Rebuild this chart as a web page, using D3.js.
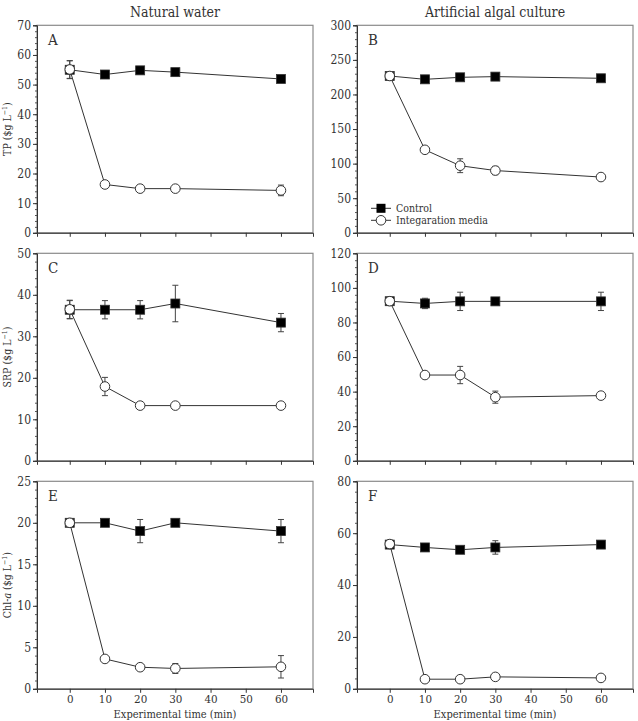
<!DOCTYPE html>
<html><head><meta charset="utf-8">
<script src="https://cdn.jsdelivr.net/npm/d3@7"></script>
<style>
body{margin:0;background:#fff;}
text{font-family:"DejaVu Serif Condensed","DejaVu Serif",serif;fill:#333;}
</style></head>
<body><svg id="c" width="638" height="721"></svg>
<script>
const times = [0, 10, 20, 30, 60];
const xTicks = [0, 10, 20, 30, 40, 50, 60];
const columnTitles = ["Natural water", "Artificial algal culture"];
const seriesNames = ["Control", "Integaration media"];

const tpNatControl = [55, 53.4, 54.8, 54.2, 51.9];
const tpNatControlErr = [3, 0.5, 0.5, 1.2, 0.5];
const tpNatInteg = [55.1, 16.3, 14.9, 14.9, 14.3];
const tpNatIntegErr = [3, 0.5, 0.5, 0.5, 1.8];

const tpArtControl = [226.7, 221.9, 224.8, 225.8, 223.4];
const tpArtControlErr = [3, 3, 3, 3, 3];
const tpArtInteg = [226.7, 120, 97, 90, 80.6];
const tpArtIntegErr = [4, 3, 10, 6, 3];

const srpNatControl = [36.4, 36.4, 36.4, 37.9, 33.3];
const srpNatControlErr = [2.2, 2.2, 2.2, 4.4, 2.2];
const srpNatInteg = [36.5, 17.9, 13.3, 13.3, 13.3];
const srpNatIntegErr = [2.2, 2.2, 0.3, 0.3, 0.3];

const srpArtControl = [92.3, 91, 92.2, 92.2, 92.2];
const srpArtControlErr = [1, 3, 5.3, 1, 5.3];
const srpArtInteg = [92.3, 49.6, 49.6, 36.8, 37.7];
const srpArtIntegErr = [1.5, 1, 5, 3.5, 1];

const chlNatControl = [20, 20, 19, 20, 19];
const chlNatControlErr = [0.2, 0.2, 1.4, 0.2, 1.4];
const chlNatInteg = [20, 3.6, 2.6, 2.45, 2.65];
const chlNatIntegErr = [0.3, 0.2, 0.2, 0.6, 1.35];

const chlArtControl = [55.6, 54.5, 53.6, 54.5, 55.6];
const chlArtControlErr = [1, 1, 1, 2.6, 1];
const chlArtInteg = [55.8, 3.7, 3.7, 4.6, 4.2];
const chlArtIntegErr = [1.5, 0.5, 0.5, 0.5, 0.5];

const panels = [
  {id:"A", col:0, row:0, yMax:70, yStep:10, label:"TP", ctrl:tpNatControl, ctrlErr:tpNatControlErr, integ:tpNatInteg, integErr:tpNatIntegErr},
  {id:"B", col:1, row:0, yMax:300, yStep:50, ctrl:tpArtControl, ctrlErr:tpArtControlErr, integ:tpArtInteg, integErr:tpArtIntegErr, legend:true},
  {id:"C", col:0, row:1, yMax:50, yStep:10, label:"SRP", ctrl:srpNatControl, ctrlErr:srpNatControlErr, integ:srpNatInteg, integErr:srpNatIntegErr},
  {id:"D", col:1, row:1, yMax:120, yStep:20, ctrl:srpArtControl, ctrlErr:srpArtControlErr, integ:srpArtInteg, integErr:srpArtIntegErr},
  {id:"E", col:0, row:2, yMax:25, yStep:5, label:"Chl-a", ctrl:chlNatControl, ctrlErr:chlNatControlErr, integ:chlNatInteg, integErr:chlNatIntegErr},
  {id:"F", col:1, row:2, yMax:80, yStep:20, ctrl:chlArtControl, ctrlErr:chlArtControlErr, integ:chlArtInteg, integErr:chlArtIntegErr}
];

const svg = d3.select("#c");
const colX = [37, 357], pw = 276;
const rowY = [25.3, 253.3, 481.3], ph = 207.5;
const lineCol = "#333", frameCol = "#8a8a8a";
const FONT = '"DejaVu Serif Condensed","DejaVu Serif",serif';

columnTitles.forEach((t,i)=>{
  svg.append("text").attr("x", colX[i]+pw/2).attr("y", 17).attr("text-anchor","middle")
    .style("font-size","14px").text(t);
});

panels.forEach(p=>{
  const x0 = colX[p.col], y0 = rowY[p.row];
  const g = svg.append("g").attr("transform",`translate(${x0},${y0})`);
  const x = d3.scaleLinear().domain([-9.3, 69.1]).range([0, pw]);
  const y = d3.scaleLinear().domain([0, p.yMax]).range([ph, 0]);

  g.append("rect").attr("x",0).attr("y",0).attr("width",pw).attr("height",ph)
    .attr("fill","none").attr("stroke",frameCol).attr("stroke-width",1.2);

  const minor = d3.range(0, p.yMax + 1e-9, p.yStep/5);
  g.append("g").call(d3.axisLeft(y).tickValues(minor).tickSize(2).tickFormat(""))
    .call(a=>{a.select(".domain").remove(); a.selectAll("line").attr("stroke","#555");});
  const yAx = g.append("g").call(d3.axisLeft(y).tickValues(d3.range(0, p.yMax + 1e-9, p.yStep)).tickSize(4).tickPadding(2));
  yAx.select(".domain").attr("stroke",lineCol);
  yAx.selectAll("line").attr("stroke",lineCol);
  yAx.selectAll("text").style("font-size","12px").style("font-family",FONT).attr("fill","#333");

  const xAx = g.append("g").attr("transform",`translate(0,${ph})`)
    .call(d3.axisBottom(x).tickValues(xTicks).tickSize(4).tickPadding(2).tickFormat(p.row===2 ? d3.format("d") : ""));
  xAx.select(".domain").attr("stroke",lineCol);
  xAx.selectAll("line").attr("stroke",lineCol);
  xAx.selectAll("text").style("font-size","11.5px").style("font-family",FONT).attr("fill","#333");
  if (p.row===2) {
    g.append("text").attr("x", pw/2).attr("y", ph+29).attr("text-anchor","middle")
      .style("font-size","11px").text("Experimental time (min)");
  }

  g.append("text").attr("x", 11).attr("y", 20).style("font-size","15px").text(p.id);

  if (p.label) {
    const t = svg.append("text").attr("transform",`translate(11,${y0+ph/2}) rotate(-90)`)
      .attr("text-anchor","middle").style("font-size","10.5px");
    if (p.label === "Chl-a") {
      t.append("tspan").text("Chl-");
      t.append("tspan").style("font-style","italic").text("a");
    } else t.append("tspan").text(p.label);
    t.append("tspan").text(" ($g L");
    t.append("tspan").attr("dy",-4).style("font-size","7px").text("−1");
    t.append("tspan").attr("dy",4).text(")");
  }

  const line = d3.line().x((d,i)=>x(times[i])).y(d=>y(d));
  [[p.ctrl,p.ctrlErr],[p.integ,p.integErr]].forEach(([vals,errs])=>{
    g.append("path").datum(vals).attr("d",line).attr("fill","none").attr("stroke",lineCol).attr("stroke-width",1);
    vals.forEach((v,i)=>{
      const e = errs[i], cx = x(times[i]);
      g.append("line").attr("x1",cx).attr("x2",cx).attr("y1",y(v-e)).attr("y2",y(v+e)).attr("stroke","#444").attr("stroke-width",1);
      [v-e, v+e].forEach(w=>g.append("line").attr("x1",cx-3).attr("x2",cx+3).attr("y1",y(w)).attr("y2",y(w)).attr("stroke","#444").attr("stroke-width",1));
    });
  });
  p.ctrl.forEach((v,i)=>{
    g.append("rect").attr("x",x(times[i])-4.5).attr("y",y(v)-4.5).attr("width",9).attr("height",9)
      .attr("fill","#000").attr("stroke","#333").attr("stroke-width",0.8);
  });
  p.integ.forEach((v,i)=>{
    g.append("circle").attr("cx",x(times[i])).attr("cy",y(v)).attr("r",4.8)
      .attr("fill","#fff").attr("stroke","#333").attr("stroke-width",1);
  });

  if (p.legend) {
    const lg = g.append("g");
    [0,1].forEach(k=>{
      const ly = 183 + k*12;
      lg.append("line").attr("x1",14).attr("x2",34).attr("y1",ly).attr("y2",ly).attr("stroke",lineCol);
      if (k===0) lg.append("rect").attr("x",24-4.5).attr("y",ly-4.5).attr("width",9).attr("height",9).attr("fill","#000");
      else lg.append("circle").attr("cx",24).attr("cy",ly).attr("r",4.8).attr("fill","#fff").attr("stroke","#333");
      lg.append("text").attr("x",39).attr("y",ly+3.5).style("font-size","10.5px").text(seriesNames[k]);
    });
  }
});
</script></body></html>
